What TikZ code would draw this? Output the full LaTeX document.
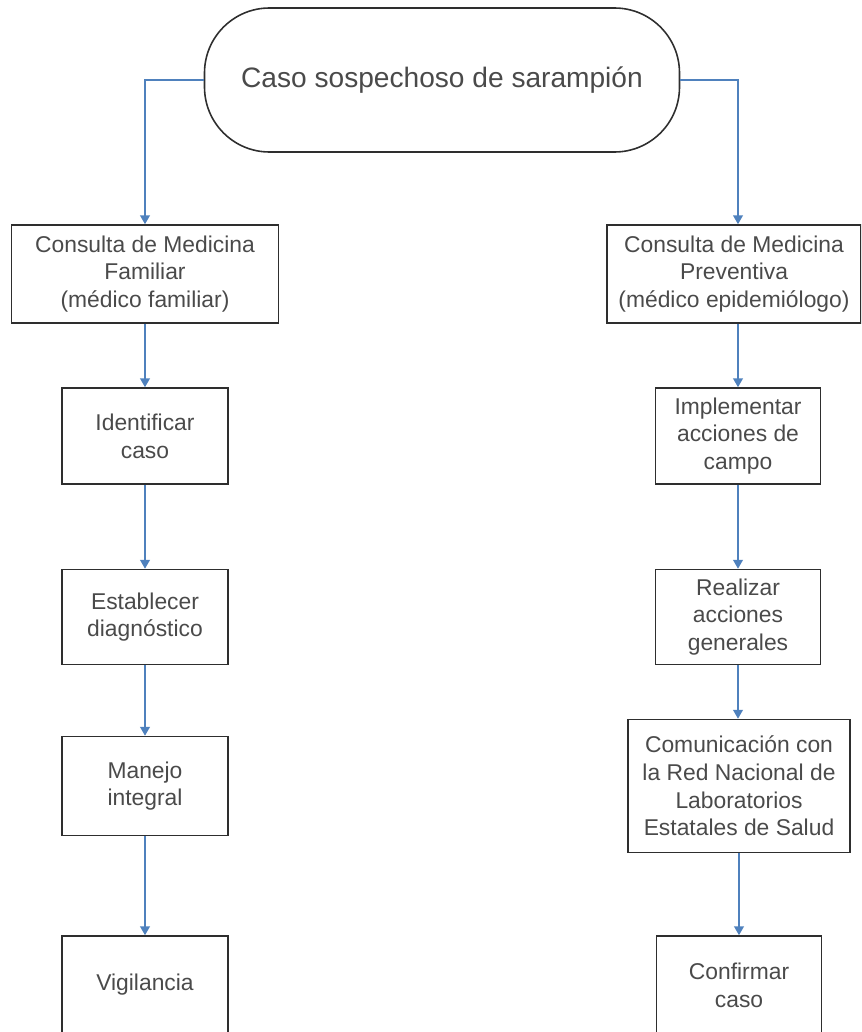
\documentclass[tikz,border=0pt]{standalone}
\usepackage{fontspec}
\setmainfont{Liberation Sans}
\usetikzlibrary{arrows.meta}
\definecolor{flowblue}{HTML}{4F81BD}
\definecolor{txtgray}{HTML}{4A4A4A}
\definecolor{edgegray}{HTML}{2E2E2E}

\begin{document}
\begin{tikzpicture}[>={Triangle[length=5pt,width=5.5pt]},
  box/.style={draw=edgegray,line width=0.9pt,align=center,text=txtgray,
    font=\fontsize{13}{15.8}\selectfont,inner sep=2pt,minimum height=1.92cm},
  arr/.style={->,draw=flowblue,line width=0.9pt}]
\useasboundingbox (0,0) rectangle (17.22,-20.64);
\clip (0,0) rectangle (17.22,-20.64);
\node[draw=edgegray,line width=0.9pt,rounded corners=1.3cm,minimum width=9.5cm,minimum height=2.88cm,
  text=txtgray,font=\fontsize{16}{19}\selectfont] (start) at (8.84,-1.6) {Caso sospechoso de sarampión};
% left column
\node[box,minimum width=5.34cm,minimum height=1.96cm] (famil) at (2.9,-5.48) {Consulta de Medicina\\Familiar\\(médico familiar)};
\node[box,minimum width=3.32cm] (ident) at (2.9,-8.72) {Identificar\\caso};
\node[box,minimum width=3.32cm,minimum height=1.9cm] (diag) at (2.9,-12.34) {Establecer\\diagnóstico};
\node[box,minimum width=3.32cm,minimum height=1.98cm] (manejo) at (2.9,-15.72) {Manejo\\integral};
\node[box,minimum width=3.32cm,minimum height=1.96cm] (vigil) at (2.9,-19.7) {Vigilancia};
% right column
\node[box,minimum width=5.08cm,minimum height=1.96cm] (prevent) at (14.68,-5.48) {Consulta de Medicina\\Preventiva\\(médico epidemiólogo)};
\node[box,minimum width=3.3cm] (campo) at (14.76,-8.72) {Implementar\\acciones de\\campo};
\node[box,minimum width=3.3cm,minimum height=1.9cm] (generales) at (14.76,-12.34) {Realizar\\acciones\\generales};
\node[box,minimum width=4.44cm,minimum height=2.66cm] (lab) at (14.78,-15.72) {Comunicación con\\la Red Nacional de\\Laboratorios\\Estatales de Salud};
\node[box,minimum width=3.3cm,minimum height=1.96cm] (confirm) at (14.78,-19.7) {Confirmar\\caso};

\draw[arr] (start.west) -| (famil.north);
\draw[arr] (famil) -- (ident);
\draw[arr] (ident) -- (diag);
\draw[arr] (diag) -- (manejo);
\draw[arr] (manejo) -- (vigil);
\draw[arr] (start.east) -| (campo |- prevent.north);
\draw[arr] (campo |- prevent.south) -- (campo);
\draw[arr] (campo) -- (generales);
\draw[arr] (generales.south) -- (generales.south |- lab.north);
\draw[arr] (lab) -- (confirm);
\end{tikzpicture}
\end{document}
